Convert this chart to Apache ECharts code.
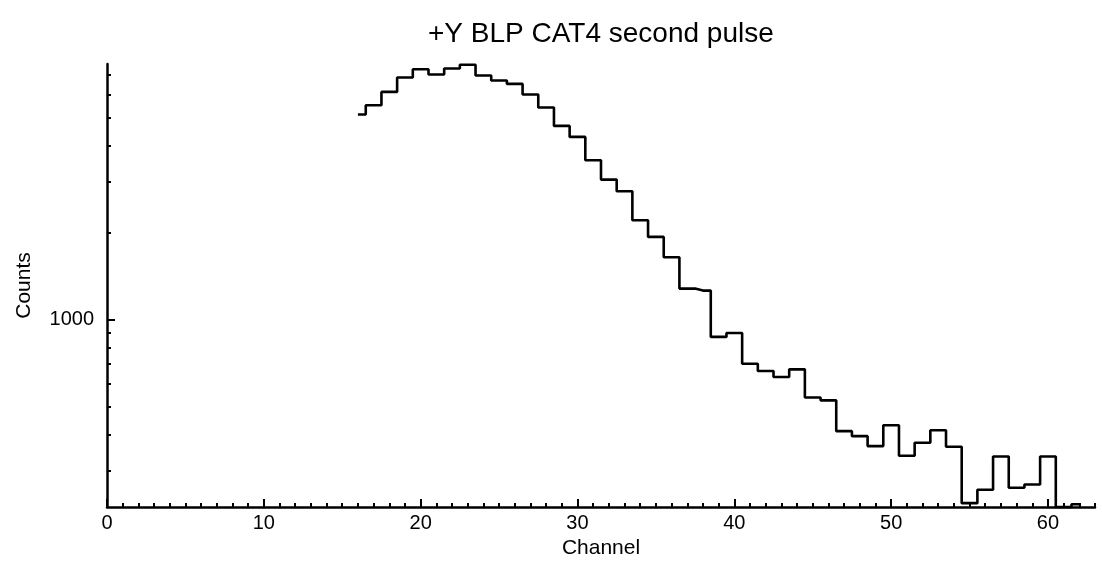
<!DOCTYPE html>
<html>
<head>
<meta charset="utf-8">
<script src="https://cdn.jsdelivr.net/npm/echarts@6/dist/echarts.min.js"></script>
<style>
  html, body { margin: 0; padding: 0; background: #fff; }
  #chart { width: 1102px; height: 571px; }
</style>
</head>
<body>
<div id="chart"></div>
<script>
// ---- data ----
const channels = [16, 17, 18, 19, 20, 21, 22, 23, 24, 25, 26, 27, 28, 29, 30, 31, 32, 33, 34, 35, 36, 37, 38, 39,
                  40, 41, 42, 43, 44, 45, 46, 47, 48, 49, 50, 51, 52, 53, 54, 55, 56, 57, 58, 59, 60, 61, 62];
const counts = [5114, 5508, 6124, 6869, 7339, 7036, 7380, 7600, 6981, 6708, 6528, 5998, 5408, 4670, 4278, 3553,
                3045, 2775, 2202, 1928, 1639, 1277, 1257, 869, 897, 702, 662, 631, 671, 536, 524, 410,
                394, 364, 430, 337, 374, 413, 362, 231, 257, 335, 261, 268, 335, 224, 229];
const xMajorTicks = [0, 10, 20, 30, 40, 50, 60];
const yMajorTicks = [1000];
const yMinorTicks = [300, 400, 500, 600, 700, 800, 900, 2000, 3000, 4000, 5000, 6000, 7000];
const xMin = 0, xMax = 63;
const yMin = 224, yMax = 7650;
const titleText = '+Y BLP CAT4 second pulse';
const xName = 'Channel';
const yName = 'Counts';

const xMinorTicks = [];
for (let i = xMin; i <= xMax; i++) xMinorTicks.push(i);

const seriesData = channels.map((c, i) => [c, counts[i]]);
const FONT = 'Liberation Sans';
const logMin = Math.log10(yMin), logMax = Math.log10(yMax);
const AXW = 2.5;

const chart = echarts.init(document.getElementById('chart'), null, { renderer: 'canvas' });
chart.setOption({
  animation: false,
  backgroundColor: '#ffffff',
  title: {
    text: titleText,
    left: 428,
    top: 20,
    padding: 0,
    textStyle: { fontFamily: FONT, fontSize: 28, fontWeight: 'normal', color: '#000' }
  },
  grid: { left: 107, right: 7, top: 64, bottom: 64, containLabel: false },
  xAxis: [
    {
      type: 'value', position: 'bottom', min: xMin, max: xMax,
      name: xName, nameLocation: 'middle', nameGap: 27,
      nameTextStyle: { fontFamily: FONT, fontSize: 21, color: '#000' },
      axisLine: { show: true, lineStyle: { color: '#000', width: AXW } },
      axisTick: { show: true, inside: true, length: 8, customValues: xMajorTicks, lineStyle: { color: '#000', width: 2 } },
      axisLabel: { show: true, customValues: xMajorTicks, margin: 6, fontFamily: FONT, fontSize: 20, color: '#000' },
      splitLine: { show: false }
    },
    {
      type: 'value', position: 'bottom', min: xMin, max: xMax,
      axisLine: { show: false },
      axisTick: { show: true, inside: true, length: 4, customValues: xMinorTicks, lineStyle: { color: '#000', width: 2 } },
      axisLabel: { show: false },
      splitLine: { show: false }
    }
  ],
  yAxis: [
    {
      type: 'log', logBase: 10, position: 'left', min: yMin, max: yMax,
      name: yName, nameLocation: 'middle', nameGap: 72, nameRotate: 90,
      nameTextStyle: { fontFamily: FONT, fontSize: 21, color: '#000' },
      axisLine: { show: true, lineStyle: { color: '#000', width: AXW } },
      axisTick: { show: false },
      axisLabel: { show: false },
      splitLine: { show: false }
    },
    {
      type: 'value', position: 'left', min: logMin, max: logMax,
      axisLine: { show: false },
      axisTick: { show: true, inside: true, length: 4, customValues: yMinorTicks.map(v => Math.log10(v)), lineStyle: { color: '#000', width: 2 } },
      axisLabel: { show: false },
      splitLine: { show: false }
    },
    {
      type: 'value', position: 'left', min: logMin, max: logMax,
      axisLine: { show: false },
      axisTick: { show: true, inside: true, length: 8, customValues: yMajorTicks.map(v => Math.log10(v)), lineStyle: { color: '#000', width: 2 } },
      axisLabel: {
        show: true, customValues: yMajorTicks.map(v => Math.log10(v)), margin: 13,
        fontFamily: FONT, fontSize: 20, color: '#000',
        formatter: v => String(Math.round(Math.pow(10, v)))
      },
      splitLine: { show: false }
    }
  ],
  series: [
    {
      type: 'line',
      xAxisIndex: 0, yAxisIndex: 0,
      step: 'middle',
      data: seriesData,
      showSymbol: false,
      symbol: 'none',
      clip: false,
      lineStyle: { color: '#000', width: 2.6 }
    }
  ]
});
</script>
</body>
</html>
